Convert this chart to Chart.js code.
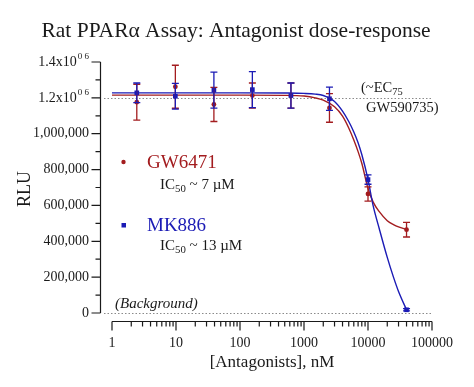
<!DOCTYPE html>
<html lang="en">
<head>
  <meta charset="UTF-8">
  <title>Rat PPARα Assay: Antagonist dose-response</title>
  <script src="https://cdn.jsdelivr.net/npm/chart.js"></script>
  <style>
    body {
      margin: 0;
      background-color: #ffffff;
    }
    canvas {
      display: block;
    }
  </style>
</head>
<body>
  <canvas id="doseChart" width="474" height="387"></canvas>

  <script>
    // measured points (4-fold dilutions, nM)
    const concentrations = [2.44, 9.77, 39.1, 156, 625, 2500, 10000, 40000];
    const gw6471Mean = [1176000, 1262000, 1163000, 1213000, 1213000, 1144000, 664000, 465000];
    const gw6471Err = [100000, 120000, 95000, 70000, 70000, 80000, 40000, 41000];
    const mk886Mean = [1228000, 1209000, 1243000, 1246000, 1213000, 1195000, 744000, 18000];
    const mk886Err = [55000, 72000, 100000, 100000, 70000, 65000, 26000, 6000];

    // fitted curves
    const fitConc = [1, 10, 100, 500, 1000, 1500, 2000, 3000, 4000, 5000, 6000, 7000, 8000, 10000, 12000, 15000, 20000, 25000, 30000, 40000];
    const gw6471Fit = [1215000, 1215000, 1215000, 1214000, 1210000, 1200000, 1187000, 1150000, 1098000, 1032000, 965000, 900000, 835000, 695000, 620000, 565000, 515000, 493000, 480000, 466000];
    const mk886Fit = [1228000, 1228000, 1228000, 1227000, 1225000, 1221000, 1213000, 1180000, 1126000, 1068000, 1010000, 950000, 884000, 745000, 600000, 470000, 310000, 200000, 120000, 18000];

    // axes
    const xTickValues = [1, 10, 100, 1000, 10000, 100000];
    const xTickLabels = ['1', '10', '100', '1000', '10000', '100000'];
    const yTickValues = [0, 200000, 400000, 600000, 800000, 1000000, 1200000, 1400000];
    const yTickLabels = ['0', '200,000', '400,000', '600,000', '800,000', '1,000,000', '1.2x10', '1.4x10'];
    const yTickSup = ['', '', '', '', '', '', '0 6', '0 6'];

    const RED = '#a31c1f';
    const BLUE = '#1b1bb5';
    const INK = '#1a1a1a';
    const SERIF = '"Liberation Serif", "Times New Roman", serif';

    function pts(xs, ys) {
      return xs.map((x, i) => ({ x: x, y: ys[i] }));
    }

    // text with subscript parts: [[text, isSub], ...]
    function drawRich(ctx, parts, x, y, size) {
      let cx = x;
      parts.forEach(([t, sub]) => {
        ctx.font = (sub ? size * 0.72 : size) + 'px ' + SERIF;
        ctx.fillText(t, cx, sub ? y + size * 0.28 : y);
        cx += ctx.measureText(t).width;
      });
    }

    const refLines = {
      id: 'refLines',
      beforeDatasetsDraw(chart) {
        const ctx = chart.ctx;
        const y = chart.scales.y;
        ctx.save();
        ctx.strokeStyle = '#8a8a8a';
        ctx.lineWidth = 1;
        ctx.setLineDash([1.5, 2]);
        [1200000, 0].forEach(v => {
          const py = Math.round(y.getPixelForValue(v)) + 0.5;
          ctx.beginPath();
          ctx.moveTo(104, py);
          ctx.lineTo(431, py);
          ctx.stroke();
        });
        ctx.restore();
      }
    };

    const errorBars = {
      id: 'errorBars',
      afterDatasetsDraw(chart) {
        const ctx = chart.ctx;
        const xs = chart.scales.x, ys = chart.scales.y;
        ctx.save();
        ctx.lineWidth = 1.3;
        [[gw6471Mean, gw6471Err, RED], [mk886Mean, mk886Err, BLUE]].forEach(([m, e, c]) => {
          ctx.strokeStyle = c;
          concentrations.forEach((cx, i) => {
            const px = xs.getPixelForValue(cx);
            const top = ys.getPixelForValue(m[i] + e[i]);
            const bot = ys.getPixelForValue(m[i] - e[i]);
            ctx.beginPath();
            ctx.moveTo(px, top); ctx.lineTo(px, bot);
            ctx.moveTo(px - 3.5, top); ctx.lineTo(px + 3.5, top);
            ctx.moveTo(px - 3.5, bot); ctx.lineTo(px + 3.5, bot);
            ctx.stroke();
          });
        });
        ctx.restore();
      }
    };

    const axesAndText = {
      id: 'axesAndText',
      afterDraw(chart) {
        const ctx = chart.ctx;
        const xs = chart.scales.x, ys = chart.scales.y;
        const area = chart.chartArea;
        ctx.save();
        ctx.strokeStyle = INK;
        ctx.fillStyle = INK;
        ctx.lineWidth = 1.2;

        // y axis, detached to the left
        const ax = 100.5;
        ctx.beginPath();
        ctx.moveTo(ax, ys.getPixelForValue(1400000));
        ctx.lineTo(ax, ys.getPixelForValue(0));
        for (let v = 0; v <= 1400000; v += 100000) {
          const py = ys.getPixelForValue(v);
          const len = v % 200000 === 0 ? 9 : 5;
          ctx.moveTo(ax - len, py);
          ctx.lineTo(ax, py);
        }
        ctx.stroke();

        ctx.textBaseline = 'middle';
        ctx.textAlign = 'left';
        yTickValues.forEach((v, i) => {
          const py = ys.getPixelForValue(v);
          ctx.font = '14px ' + SERIF;
          const w1 = ctx.measureText(yTickLabels[i]).width;
          ctx.font = '9px ' + SERIF;
          const w2 = yTickSup[i] ? ctx.measureText(yTickSup[i]).width + 1 : 0;
          const x0 = 89 - w1 - w2;
          ctx.font = '14px ' + SERIF;
          ctx.fillText(yTickLabels[i], x0, py);
          if (yTickSup[i]) {
            ctx.font = '9px ' + SERIF;
            ctx.fillText(yTickSup[i], x0 + w1 + 1, py - 5);
          }
        });

        // x axis, detached below
        const ay = 321.5;
        ctx.beginPath();
        ctx.moveTo(area.left, ay);
        ctx.lineTo(area.right, ay);
        xTickValues.forEach(v => {
          const px = xs.getPixelForValue(v);
          ctx.moveTo(px, ay);
          ctx.lineTo(px, ay + 9);
        });
        for (let d = 1; d < 100000; d *= 10) {
          for (let k = 2; k <= 9; k++) {
            const px = xs.getPixelForValue(k * d);
            ctx.moveTo(px, ay);
            ctx.lineTo(px, ay + 5);
          }
        }
        ctx.stroke();

        ctx.font = '14px ' + SERIF;
        ctx.textAlign = 'center';
        xTickValues.forEach((v, i) => {
          ctx.fillText(xTickLabels[i], xs.getPixelForValue(v), 343);
        });

        // titles
        ctx.font = '21.5px ' + SERIF;
        ctx.fillText('Rat PPARα Assay: Antagonist dose-response', 236, 31);
        ctx.font = '17px ' + SERIF;
        ctx.fillText('[Antagonists], nM', 272, 363);
        ctx.save();
        ctx.translate(25, 189);
        ctx.rotate(-Math.PI / 2);
        ctx.font = '18px ' + SERIF;
        ctx.fillText('RLU', 0, 0);
        ctx.restore();

        // legend
        ctx.textAlign = 'left';
        ctx.fillStyle = RED;
        ctx.beginPath();
        ctx.arc(123.5, 162, 2.2, 0, Math.PI * 2);
        ctx.fill();
        ctx.font = '19px ' + SERIF;
        ctx.fillText('GW6471', 147, 163);
        ctx.fillStyle = BLUE;
        ctx.fillRect(121.5, 223, 4.5, 4.5);
        ctx.fillText('MK886', 147, 226);
        ctx.fillStyle = INK;
        drawRich(ctx, [['IC', false], ['50', true], [' ~ 7 µM', false]], 160, 185, 15);
        drawRich(ctx, [['IC', false], ['50', true], [' ~ 13 µM', false]], 160, 246, 15);

        // annotations
        ctx.font = 'italic 15px ' + SERIF;
        ctx.fillText('(Background)', 115, 304);
        drawRich(ctx, [['(~EC', false], ['75', true]], 361, 88, 14.5);
        ctx.font = '14.5px ' + SERIF;
        ctx.fillText('GW590735)', 366, 108);
        ctx.restore();
      }
    };

    new Chart(document.getElementById('doseChart').getContext('2d'), {
      type: 'scatter',
      data: {
        datasets: [
          {
            label: 'MK886',
            data: pts(concentrations, mk886Mean),
            pointStyle: 'rect',
            pointRadius: 3.3,
            backgroundColor: BLUE,
            borderColor: BLUE,
            borderWidth: 0,
            clip: false
          },
          {
            label: 'GW6471',
            data: pts(concentrations, gw6471Mean),
            pointStyle: 'circle',
            pointRadius: 2.4,
            backgroundColor: RED,
            borderColor: RED,
            borderWidth: 0,
            clip: false
          },
          {
            label: 'MK886 fit',
            data: pts(fitConc, mk886Fit),
            showLine: true,
            pointRadius: 0,
            borderColor: BLUE,
            borderWidth: 1.4,
            cubicInterpolationMode: 'monotone',
            clip: false
          },
          {
            label: 'GW6471 fit',
            data: pts(fitConc, gw6471Fit),
            showLine: true,
            pointRadius: 0,
            borderColor: RED,
            borderWidth: 1.4,
            cubicInterpolationMode: 'monotone',
            clip: false
          }
        ]
      },
      options: {
        responsive: false,
        animation: false,
        devicePixelRatio: 1,
        layout: {
          padding: { left: 112, right: 42, top: 62, bottom: 74 }
        },
        plugins: {
          legend: { display: false },
          tooltip: { enabled: false }
        },
        scales: {
          x: {
            type: 'logarithmic',
            min: 1,
            max: 100000,
            display: false
          },
          y: {
            type: 'linear',
            min: 0,
            max: 1400000,
            display: false
          }
        }
      },
      plugins: [refLines, errorBars, axesAndText]
    });
  </script>
</body>
</html>
